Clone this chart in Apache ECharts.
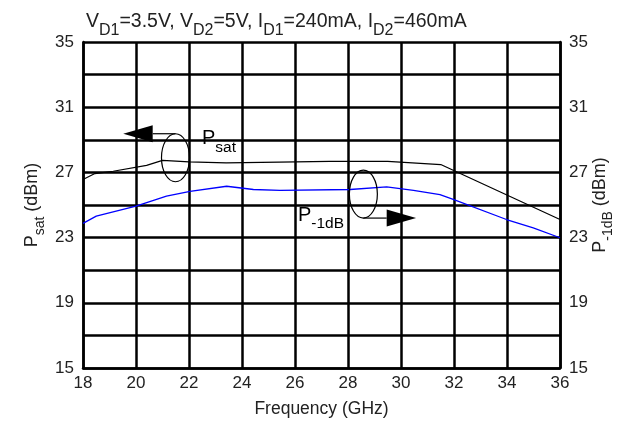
<!DOCTYPE html>
<html>
<head>
<meta charset="utf-8">
<script src="https://cdn.jsdelivr.net/npm/echarts@6/dist/echarts.min.js"></script>
<style>
  html, body { margin: 0; padding: 0; background: #fff; }
  #main { width: 639px; height: 423px; }
</style>
</head>
<body>
<div id="main"></div>
<script>
// Psat (left axis) and P-1dB (right axis) vs frequency
const freqSat = [18, 18.45, 19.14, 20.4, 21.0, 22.0, 23.4, 25.4, 27.3, 29.5, 31.5, 36];
const pSat = [26.56, 26.93, 27.07, 27.43, 27.74, 27.64, 27.58, 27.63, 27.68, 27.68, 27.48, 24.11];
const freq1dB = [18, 18.5, 20.0, 21.15, 22.04, 23.42, 24.43, 25.43, 28.08, 29.46, 30.47, 31.47, 31.97, 33.98, 34.99, 36];
const p1dB = [23.87, 24.32, 24.93, 25.54, 25.84, 26.15, 25.95, 25.9, 25.95, 26.11, 25.9, 25.64, 25.34, 24.11, 23.6, 22.99];
const yLabels = [15, 19, 23, 27, 31, 35];

// callout anchors, in data coordinates [GHz, dBm]
const satEllipse = [21.49, 27.9];
const satArrowX = [20.63, 19.52];   // base, tip
const satLabel = [22.49, 29.68];
const dbEllipse = [28.58, 25.67];
const dbArrowX = [29.46, 30.57];
const dbLabel = [26.11, 25.0];

const FONT = 'Liberation Sans';
const chart = echarts.init(document.getElementById('main'), null, { renderer: 'canvas' });

const sub = (m, s) => ({
  m: { fontFamily: FONT, fontSize: m, fontWeight: 'normal', lineHeight: m + 2, verticalAlign: 'top', color: '#222' },
  s: { fontFamily: FONT, fontSize: s, fontWeight: 'normal', lineHeight: s + 1, padding: [Math.round(m * 0.55), 0, 0, 0], verticalAlign: 'top', color: '#222' }
});

const yAxisBase = {
  type: 'value',
  min: 15,
  max: 35,
  interval: 1,
  nameLocation: 'middle',
  nameRotate: 90,
  nameMoveOverlap: false,
  axisLine: { show: true, lineStyle: { color: '#000', width: 2.5 } },
  axisTick: { show: false },
  axisLabel: {
    fontFamily: FONT, fontSize: 17, color: '#222', margin: 9,
    formatter: v => (yLabels.includes(v) ? String(v) : '')
  }
};

chart.setOption({
  animation: false,
  backgroundColor: '#fff',
  title: {
    text: '{m|V}{s|D1}{m|=3.5V, V}{s|D2}{m|=5V, I}{s|D1}{m|=240mA, I}{s|D2}{m|=460mA}',
    left: 86,
    top: 12,
    padding: 0,
    textStyle: { fontWeight: 'normal', rich: sub(19.5, 16) }
  },
  grid: { left: 83, right: 79, top: 42, bottom: 54 },
  xAxis: {
    type: 'value',
    min: 18,
    max: 36,
    interval: 2,
    name: 'Frequency (GHz)',
    nameLocation: 'middle',
    nameGap: 32,
    nameMoveOverlap: false,
    nameTextStyle: { fontFamily: FONT, fontSize: 17.5, color: '#222' },
    axisLine: { lineStyle: { color: '#000', width: 2.5 } },
    axisTick: { show: false },
    axisLabel: { fontFamily: FONT, fontSize: 17, color: '#222', margin: 7 },
    splitLine: { show: true, lineStyle: { color: '#000', width: 2.5 } }
  },
  yAxis: [
    Object.assign({}, yAxisBase, {
      position: 'left',
      name: '{m|P}{s|sat}{m| (dBm)}',
      nameGap: 40,
      nameTextStyle: { rich: sub(18, 14) },
      // grid every 2 dB: alternate black / transparent on 1 dB ticks
      splitLine: { show: true, lineStyle: { color: ['#000', 'rgba(0,0,0,0)'], width: 2.5 } }
    }),
    Object.assign({}, yAxisBase, {
      position: 'right',
      name: '{m|P}{s|-1dB}{m| (dBm)}',
      nameGap: 31,
      nameTextStyle: { rich: sub(18, 14) },
      splitLine: { show: false }
    })
  ],
  series: [
    {
      name: 'Psat',
      type: 'line',
      yAxisIndex: 0,
      showSymbol: false,
      lineStyle: { color: '#000', width: 1.2 },
      data: freqSat.map((f, i) => [f, pSat[i]])
    },
    {
      name: 'P-1dB',
      type: 'line',
      yAxisIndex: 1,
      showSymbol: false,
      lineStyle: { color: '#0000ff', width: 1.3 },
      data: freq1dB.map((f, i) => [f, p1dB[i]])
    }
  ]
});

// callouts: ellipse round the curve with an arrow pointing at its axis
const px = pt => chart.convertToPixel({ xAxisIndex: 0, yAxisIndex: 0 }, pt);
const RX = 14, RY = 24, AH = 8.5;

function callout(center, arrowX, up) {
  const c = px(center);
  const ay = up ? c[1] - RY : c[1] + RY;
  const base = px([arrowX[0], center[1]])[0];
  const tip = px([arrowX[1], center[1]])[0];
  return [
    { type: 'ellipse', shape: { cx: c[0], cy: c[1], rx: RX, ry: RY }, style: { fill: 'none', stroke: '#000', lineWidth: 1.2 }, z: 10 },
    { type: 'line', shape: { x1: c[0], y1: ay, x2: base, y2: ay }, style: { stroke: '#000', lineWidth: 1.2 }, z: 10 },
    { type: 'polygon', shape: { points: [[base, ay - AH], [base, ay + AH], [tip, ay]] }, style: { fill: '#000' }, z: 10 }
  ];
}

function label(pt, text) {
  const p = px(pt);
  return {
    type: 'text', x: p[0], y: p[1], z: 10,
    style: { text: text, rich: sub(20, 15.5), verticalAlign: 'top', align: 'left' }
  };
}

chart.setOption({
  graphic: [].concat(
    callout(satEllipse, satArrowX, true),
    callout(dbEllipse, dbArrowX, false),
    [label(satLabel, '{m|P}{s|sat}'), label(dbLabel, '{m|P}{s|-1dB}')]
  )
});
</script>
</body>
</html>
